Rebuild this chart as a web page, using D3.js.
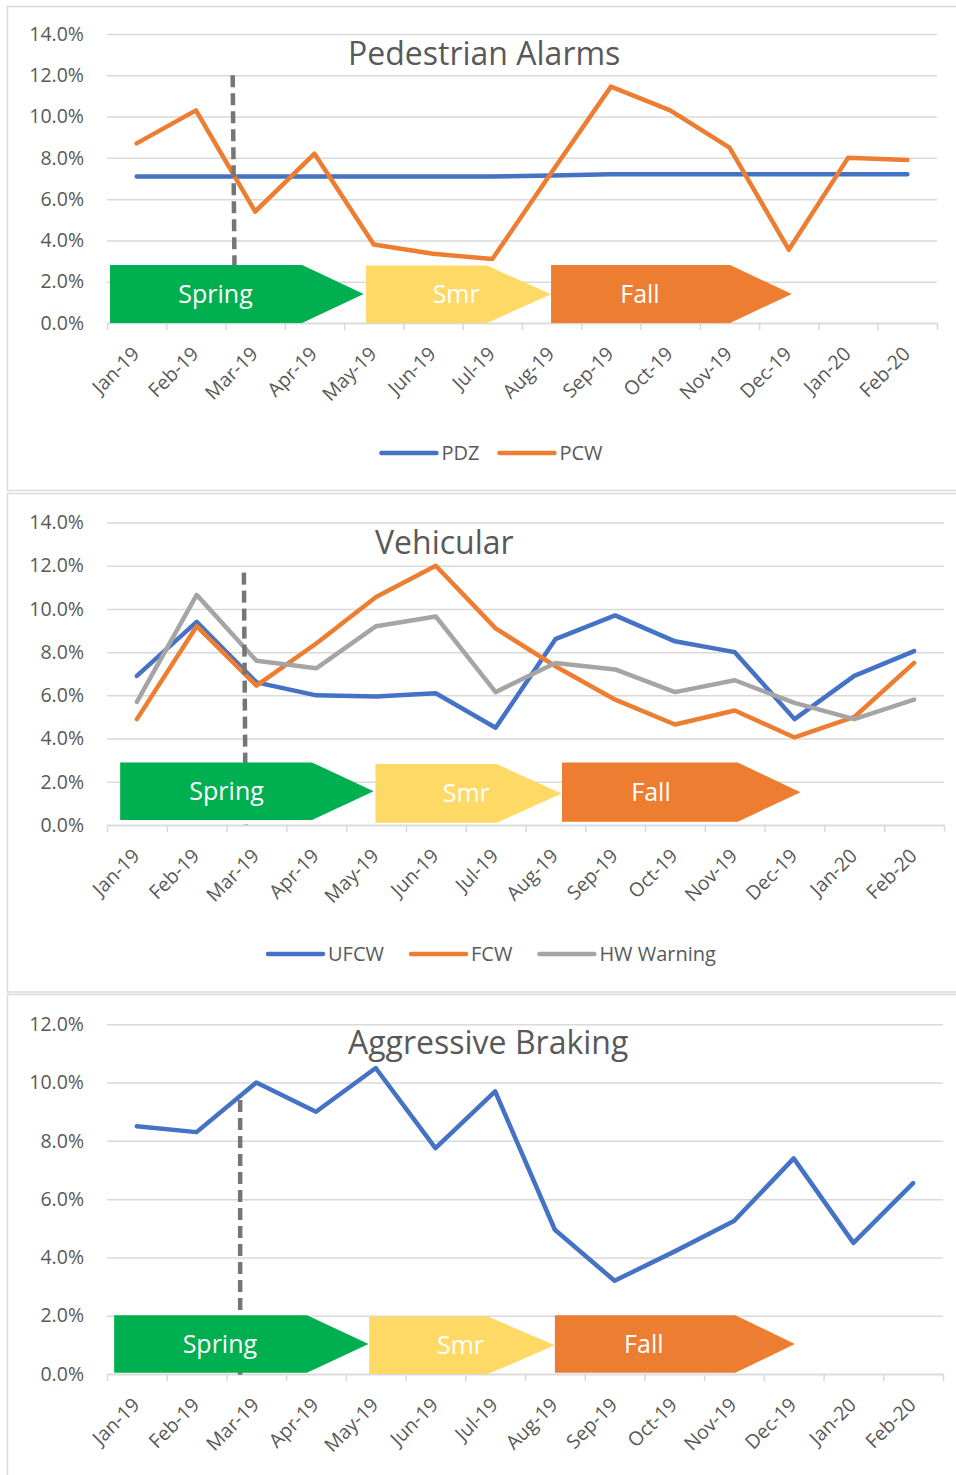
<!DOCTYPE html>
<html>
<head>
<meta charset="utf-8">
<script src="https://cdn.jsdelivr.net/npm/d3@7"></script>
<style>
  body { margin: 0; background: #fff; }
  text { font-family: "Open Sans", Lato, sans-serif; }
</style>
</head>
<body>
<svg id="chart" width="956" height="1475"></svg>
<script>
// Months on the category axis
const months = ['Jan-19', 'Feb-19', 'Mar-19', 'Apr-19', 'May-19', 'Jun-19', 'Jul-19',
                'Aug-19', 'Sep-19', 'Oct-19', 'Nov-19', 'Dec-19', 'Jan-20', 'Feb-20'];

// Pedestrian alarms (%)
const pdz = [7.1, 7.1, 7.1, 7.1, 7.1, 7.1, 7.1, 7.15, 7.2, 7.2, 7.2, 7.2, 7.2, 7.2];
const pcw = [8.7, 10.3, 5.4, 8.2, 3.8, 3.35, 3.1, 7.3, 11.45, 10.3, 8.5, 3.55, 8.0, 7.9];

// Vehicular (%)
const ufcw = [6.9, 9.4, 6.6, 6.0, 5.95, 6.1, 4.5, 8.6, 9.7, 8.5, 8.0, 4.9, 6.9, 8.05];
const fcw = [4.9, 9.2, 6.45, 8.4, 10.55, 12.0, 9.1, 7.35, 5.8, 4.65, 5.3, 4.05, 5.0, 7.5];
const hwWarning = [5.7, 10.65, 7.6, 7.25, 9.2, 9.65, 6.15, 7.5, 7.2, 6.15, 6.7, 5.65, 4.9, 5.8];

// Aggressive braking (%)
const braking = [8.5, 8.3, 10.0, 9.0, 10.5, 7.75, 9.7, 4.95, 3.2, 4.2, 5.25, 7.4, 4.5, 6.55];

const seasonNames = ['Spring', 'Smr', 'Fall'];
const seasonColors = ['#00b050', '#ffd966', '#ed7d31'];

const blue = '#4472c4', orange = '#ed7d31', gray = '#a5a5a5';

// Layout of the three panels (pixels, and season shapes in category units / %)
const panels = [
  {
    title: 'Pedestrian Alarms', titleX: 348, titleY: 65,
    boxTop: 6.5, boxBottom: 490.5,
    left: 107, right: 937, top: 34, bottom: 323, yMax: 14,
    series: [{name: 'PDZ', values: pdz, color: blue}, {name: 'PCW', values: pcw, color: orange}],
    legendY: 453, legendGap: 20,
    dash: {x1: 2.12, x2: 2.16, yTop: 12.0, yBot: -0.1},
    seasons: [
      {x0: 0.05, x1: 3.29, tip: 4.33, yTop: 2.81, yBot: 0.0, label: 1.83},
      {x0: 4.37, x1: 6.41, tip: 7.49, yTop: 2.78, yBot: 0.0, label: 5.89},
      {x0: 7.49, x1: 10.51, tip: 11.55, yTop: 2.81, yBot: 0.0, label: 8.99},
    ],
  },
  {
    title: 'Vehicular', titleX: 375, titleY: 554,
    boxTop: 493.5, boxBottom: 992,
    left: 107, right: 944, top: 522.5, bottom: 825, yMax: 14,
    series: [{name: 'UFCW', values: ufcw, color: blue}, {name: 'FCW', values: fcw, color: orange},
             {name: 'HW Warning', values: hwWarning, color: gray}],
    legendY: 954, legendGap: 27,
    dash: {x1: 2.29, x2: 2.32, yTop: 11.68, yBot: 0.0},
    seasons: [
      {x0: 0.22, x1: 3.43, tip: 4.46, yTop: 2.89, yBot: 0.23, label: 2.0},
      {x0: 4.49, x1: 6.52, tip: 7.60, yTop: 2.82, yBot: 0.1, label: 6.01},
      {x0: 7.61, x1: 10.55, tip: 11.60, yTop: 2.89, yBot: 0.15, label: 9.1},
    ],
  },
  {
    title: 'Aggressive Braking', titleX: 348, titleY: 1054,
    boxTop: 994.5, boxBottom: 1500,
    left: 107, right: 943, top: 1024.3, bottom: 1374, yMax: 12,
    series: [{name: 'Braking', values: braking, color: blue}],
    legendY: null,
    dash: {x1: 2.23, x2: 2.23, yTop: 9.4, yBot: -0.03},
    seasons: [
      {x0: 0.12, x1: 3.35, tip: 4.38, yTop: 2.02, yBot: 0.04, label: 1.89},
      {x0: 4.39, x1: 6.38, tip: 7.50, yTop: 1.97, yBot: 0.0, label: 5.92},
      {x0: 7.50, x1: 10.52, tip: 11.52, yTop: 2.02, yBot: 0.04, label: 8.99},
    ],
  },
];

const svg = d3.select('#chart');

function drawPanel(p) {
  const g = svg.append('g');
  g.append('rect')
    .attr('x', 7.5).attr('y', p.boxTop)
    .attr('width', 960).attr('height', p.boxBottom - p.boxTop)
    .attr('fill', '#fff').attr('stroke', '#d9d9d9').attr('stroke-width', 1.5);

  const x = d3.scaleBand().domain(months).range([p.left, p.right]);
  const xi = d3.scaleLinear().domain([0, months.length]).range([p.left, p.right]);
  const y = d3.scaleLinear().domain([0, p.yMax]).range([p.bottom, p.top]);

  // Grid + y labels
  const yAxis = g.append('g')
    .attr('transform', `translate(${p.left},0)`)
    .call(d3.axisLeft(y)
      .tickValues(d3.range(0, p.yMax + 0.01, 2))
      .tickSize(-(p.right - p.left))
      .tickPadding(23)
      .tickFormat(d => d.toFixed(1) + '%'));
  yAxis.select('.domain').remove();
  yAxis.selectAll('line').attr('stroke', '#d9d9d9').attr('stroke-width', 1.5);
  yAxis.selectAll('text').attr('fill', '#595959').style('font-size', '19.5px');

  // Category axis ticks
  const xAxis = g.append('g')
    .attr('transform', `translate(0,${p.bottom})`)
    .call(d3.axisBottom(xi)
      .tickValues(d3.range(0, months.length + 1))
      .tickSize(7).tickSizeOuter(0)
      .tickFormat(''));
  xAxis.select('.domain').attr('stroke', '#d9d9d9').attr('stroke-width', 1.5);
  xAxis.selectAll('line').attr('stroke', '#d9d9d9').attr('stroke-width', 1.5);

  g.append('g').selectAll('text')
    .data(months)
    .join('text')
    .attr('transform', d => `translate(${x(d) + x.bandwidth() / 2 + 4},${p.bottom + 32}) rotate(-45)`)
    .attr('text-anchor', 'end')
    .attr('fill', '#595959')
    .style('font-size', '19.5px')
    .text(d => d);

  // Series lines
  const line = d3.line()
    .x((_, i) => x(months[i]) + x.bandwidth() / 2)
    .y(d => y(d));
  g.append('g').selectAll('path')
    .data(p.series)
    .join('path')
    .attr('d', s => line(s.values))
    .attr('fill', 'none')
    .attr('stroke', s => s.color)
    .attr('stroke-width', 4.5)
    .attr('stroke-linejoin', 'round')
    .attr('stroke-linecap', 'round');

  // Dashed marker
  g.append('line')
    .attr('x1', xi(p.dash.x1)).attr('x2', xi(p.dash.x2))
    .attr('y1', y(p.dash.yTop)).attr('y2', y(p.dash.yBot))
    .attr('stroke', '#767676')
    .attr('stroke-width', 4.5)
    .attr('stroke-dasharray', '12,6');

  // Season arrows
  const sg = g.append('g').selectAll('g')
    .data(p.seasons)
    .join('g');
  sg.append('path')
    .attr('d', s => {
      const yt = y(s.yTop), yb = y(s.yBot), ym = (yt + yb) / 2;
      return `M${xi(s.x0)},${yt}L${xi(s.x1)},${yt}L${xi(s.tip)},${ym}L${xi(s.x1)},${yb}L${xi(s.x0)},${yb}Z`;
    })
    .attr('fill', (_, i) => seasonColors[i]);
  sg.append('text')
    .attr('x', s => xi(s.label))
    .attr('y', s => (y(s.yTop) + y(s.yBot)) / 2)
    .attr('dy', '0.35em')
    .attr('text-anchor', 'middle')
    .attr('fill', '#fff')
    .style('font-size', '25px')
    .text((_, i) => seasonNames[i]);

  // Title
  g.append('text')
    .attr('x', p.titleX).attr('y', p.titleY)
    .attr('fill', '#595959')
    .style('font-size', '32px')
    .text(p.title);

  // Legend
  if (p.legendY !== null) {
    const lineLen = 55, gap = 5;
    const lg = g.append('g');
    const items = lg.selectAll('g').data(p.series).join('g');
    items.append('line')
      .attr('x1', 0).attr('x2', lineLen)
      .attr('y1', 0).attr('y2', 0)
      .attr('stroke', s => s.color)
      .attr('stroke-width', 4.5)
      .attr('stroke-linecap', 'round');
    items.append('text')
      .attr('x', lineLen + gap)
      .attr('dy', '0.35em')
      .attr('fill', '#595959')
      .style('font-size', '20px')
      .text(s => s.name);
    let offset = 0;
    const offsets = [];
    items.each(function () {
      offsets.push(offset);
      const w = lineLen + gap + d3.select(this).select('text').node().getComputedTextLength();
      offset += w + p.legendGap;
    });
    const total = offset - p.legendGap;
    const cx = 492;
    items.attr('transform', (_, i) => `translate(${cx - total / 2 + offsets[i]},${p.legendY})`);
  }
}

panels.forEach(drawPanel);
</script>
</body>
</html>
